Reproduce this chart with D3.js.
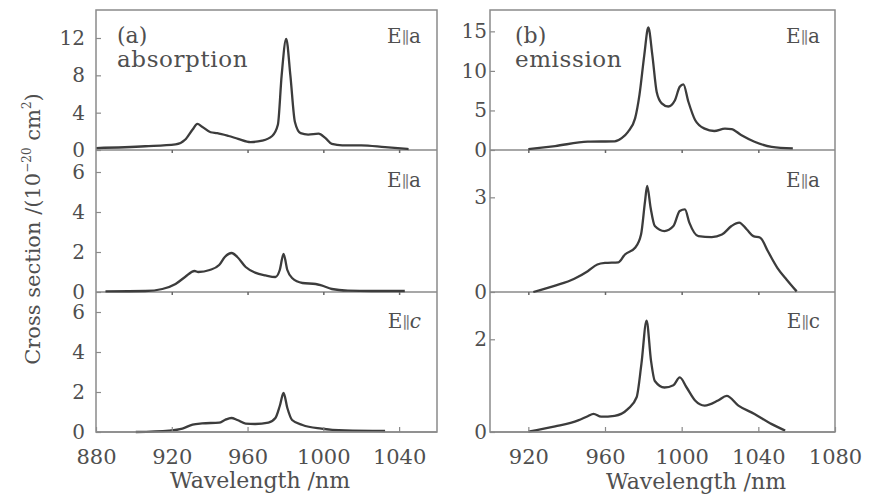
<!DOCTYPE html>
<html><head><meta charset="utf-8">
<script src="https://cdn.jsdelivr.net/npm/d3@7"></script>
<style>
body{margin:0;background:#fff}
text{font-family:"DejaVu Serif","Liberation Serif",serif;fill:#4f4f4f}
</style>
</head><body>
<svg id="chart" width="883" height="499"></svg>
<script>
// ---------- data ----------
// (a) absorption, E||a (top)
const absTopNm  = [880, 906, 922, 927, 931, 933.5, 936, 940.5, 944, 950, 955, 961.6, 967.7, 973, 976, 978, 980.4, 982.6, 985, 988, 992, 997.5, 1001, 1004.5, 1010, 1020, 1032.6, 1045];
const absTopVal = [0.2, 0.4, 0.6, 1.1, 2.2, 2.8, 2.5, 1.9, 1.8, 1.5, 1.2, 0.85, 1.0, 1.5, 2.7, 8, 11.9, 8, 3, 1.8, 1.65, 1.75, 1.3, 0.65, 0.5, 0.5, 0.3, 0.1];
// (a) absorption, E||a (middle)
const absMidNm  = [885, 906, 915, 922, 927, 932, 934, 940, 945, 948, 951.6, 954.6, 959, 964, 969.5, 974.7, 977, 979, 981, 983.5, 989, 996, 999, 1004.5, 1013, 1025.6, 1043];
const absMidVal = [0.03, 0.05, 0.15, 0.4, 0.75, 1.05, 1.0, 1.1, 1.35, 1.75, 1.95, 1.75, 1.25, 0.97, 0.83, 0.75, 1.1, 1.9, 1.1, 0.7, 0.45, 0.4, 0.33, 0.15, 0.07, 0.05, 0.05];
// (a) absorption, E||c (bottom)
const absBotNm  = [901, 918.6, 925.6, 931, 936, 945, 948, 951.4, 954.6, 959, 964, 971, 974.7, 977, 979, 981, 983.5, 989, 999, 1011.6, 1032.6];
const absBotVal = [0, 0.07, 0.17, 0.37, 0.43, 0.47, 0.6, 0.7, 0.6, 0.42, 0.4, 0.47, 0.7, 1.3, 1.95, 1.2, 0.6, 0.35, 0.17, 0.08, 0.05];
// (b) emission, E||a (top)
const emTopNm  = [920, 934, 951, 965, 968.7, 972, 975.7, 978, 980.5, 982.6, 984.7, 987, 989.6, 993, 996.5, 999, 1000.9, 1003.5, 1007, 1012, 1017, 1022.6, 1026, 1031, 1038, 1047, 1058];
const emTopVal = [0.1, 0.5, 1.05, 1.1, 1.5, 2.3, 4, 7, 12, 15.5, 12, 7.3, 5.9, 5.5, 6.3, 8, 8.3, 6.1, 3.8, 2.7, 2.4, 2.7, 2.65, 1.9, 1.05, 0.4, 0.2];
// (b) emission, E||a (middle)
const emMidNm  = [922.6, 934, 944, 951, 956, 960, 967, 970.4, 975.7, 978.8, 980.9, 982, 983.8, 986, 991, 995.7, 999, 1001.7, 1004, 1008.7, 1015.7, 1021, 1026, 1030, 1034, 1037.4, 1041, 1045, 1050, 1054.8, 1060];
const emMidVal = [0, 0.2, 0.42, 0.66, 0.87, 0.92, 0.94, 1.19, 1.4, 1.82, 2.88, 3.36, 2.67, 2.09, 1.93, 2.09, 2.57, 2.62, 2.2, 1.77, 1.74, 1.82, 2.09, 2.2, 1.98, 1.77, 1.72, 1.29, 0.76, 0.39, 0.02];
// (b) emission, E||c (bottom)
const emBotNm  = [920, 934, 946, 951, 954, 958, 965, 972, 976.5, 979, 981.7, 984, 986, 991, 995.7, 999, 1002.6, 1007, 1012, 1019, 1023.5, 1029.6, 1038, 1047, 1054];
const emBotVal = [0.01, 0.12, 0.25, 0.34, 0.39, 0.33, 0.35, 0.5, 0.75, 1.47, 2.4, 1.54, 1.1, 0.96, 1.01, 1.18, 0.96, 0.68, 0.57, 0.68, 0.78, 0.57, 0.39, 0.17, 0.03];

// axis extents and ticks
const leftXDomain  = [880, 1060];
const rightXDomain = [900, 1080];
const leftXTickLabels  = [880, 920, 960, 1000, 1040];
const rightXTickLabels = [920, 960, 1000, 1040, 1080];
const leftXTickMarks   = [920, 960, 1000, 1040];
const rightXTickMarks  = [920, 960, 1000, 1040];
const leftYMax  = [15, 7.1, 7];
const rightYMax = [17.7, 4.5, 3.02];
const leftYTicks  = [[0, 4, 8, 12], [0, 2, 4, 6], [0, 2, 4, 6]];
const rightYTicks = [[0, 5, 10, 15], [0, 3], [0, 2]];
const polLabels = ["E∥a", "E∥a", "E∥c"];

// ---------- layout ----------
const svg = d3.select("#chart");
const rowTop = [10, 150, 292];
const rowBot = [150, 292, 432];
const lineColor = "#3c3c3c";
const frameColor = "#8a8a8a";

const xL = d3.scaleLinear().domain(leftXDomain).range([96, 437]);
const xR = d3.scaleLinear().domain(rightXDomain).range([490, 835]);

const leftSeries = [[absTopNm, absTopVal], [absMidNm, absMidVal], [absBotNm, absBotVal]];
const rightSeries = [[emTopNm, emTopVal], [emMidNm, emMidVal], [emBotNm, emBotVal]];

function drawColumn(x, yMaxes, yTicks, series, labelPad, labelEndX, italicC) {
  const [x0, x1] = x.range();
  for (let i = 0; i < 3; i++) {
    const y = d3.scaleLinear().domain([0, yMaxes[i]]).range([rowBot[i], rowTop[i]]);
    // y axis (ticks inward)
    const ya = svg.append("g").attr("transform", `translate(${x0},0)`)
      .call(d3.axisLeft(y).tickValues(yTicks[i]).tickSizeInner(-5).tickSizeOuter(0)
        .tickPadding(labelPad).tickFormat(d3.format("d")));
    ya.select(".domain").remove();
    ya.selectAll("line").attr("stroke", frameColor).attr("stroke-width", 1.2);
    ya.selectAll("text").style("font-size", "20px").attr("fill", "#4f4f4f");
    // tick marks at the top boundary of lower panels
    if (i > 0) {
      const tm = svg.append("g").attr("transform", `translate(0,${rowTop[i]})`)
        .call(d3.axisBottom(x).tickValues(x === xL ? leftXTickMarks : rightXTickMarks).tickSize(3).tickFormat(""));
      tm.select(".domain").remove();
      tm.selectAll("line").attr("stroke", "#666").attr("stroke-width", 1.5);
    }
    // zero/boundary line
    svg.append("line").attr("x1", x0).attr("x2", x1)
      .attr("y1", y(0)).attr("y2", y(0)).attr("stroke", frameColor).attr("stroke-width", 1.3);
    // curve
    const [nm, val] = series[i];
    const pts = nm.map((d, k) => [d, val[k]]);
    svg.append("path").datum(pts)
      .attr("fill", "none").attr("stroke", lineColor).attr("stroke-width", 2.3)
      .attr("stroke-linejoin", "round")
      .attr("d", d3.line().x(d => x(d[0])).y(d => y(d[1])).curve(d3.curveMonotoneX));
    // polarization label
    const baseY = [43, 187, 328][i];
    const t = svg.append("text").attr("x", labelEndX).attr("y", baseY)
      .attr("text-anchor", "end").style("font-size", "20px");
    t.append("tspan").text(polLabels[i].slice(0, 1));
    t.append("tspan").text(polLabels[i].slice(1, 2)).style("font-size", "16px").attr("fill", "#777")
      .style("font-style", (italicC && i === 2) ? "italic" : "normal");
    t.append("tspan").text(polLabels[i].slice(2))
      .style("font-style", (italicC && i === 2) ? "italic" : "normal");
  }
  // bottom axis
  const xa = svg.append("g").attr("transform", `translate(0,${rowBot[2]})`)
    .call(d3.axisBottom(x).tickValues(x === xL ? leftXTickLabels : rightXTickLabels)
      .tickSizeInner(-5).tickSizeOuter(0).tickPadding(17).tickFormat(d3.format("d")));
  xa.select(".domain").remove();
  xa.selectAll("line").attr("stroke", frameColor).attr("stroke-width", 1.2);
  xa.selectAll("text").style("font-size", "21px").attr("fill", "#4f4f4f");
  // frame
  svg.append("rect").attr("x", x0).attr("y", rowTop[0]).attr("width", x1 - x0)
    .attr("height", rowBot[2] - rowTop[0]).attr("fill", "none")
    .attr("stroke", frameColor).attr("stroke-width", 1.5);
}

drawColumn(xL, leftYMax, leftYTicks, leftSeries, 11, 421, true);
drawColumn(xR, rightYMax, rightYTicks, rightSeries, 3, 820, false);

// panel titles
function title(x, l1, l2) {
  svg.append("text").attr("x", x).attr("y", 43).style("font-size", "22px").text(l1);
  svg.append("text").attr("x", x).attr("y", 67).style("font-size", "23px")
    .style("letter-spacing", "0.6px").text(l2);
}
title(117, "(a)", "absorption");
title(515, "(b)", "emission");

// axis titles
svg.append("text").attr("x", 260).attr("y", 488).attr("text-anchor", "middle")
  .style("font-size", "22px").text("Wavelength /nm");
svg.append("text").attr("x", 696).attr("y", 489).attr("text-anchor", "middle")
  .style("font-size", "22px").text("Wavelength /nm");

const yt = svg.append("text").attr("transform", "translate(40,229) rotate(-90)")
  .attr("text-anchor", "middle").style("font-size", "21px");
yt.append("tspan").text("Cross section /(10");
yt.append("tspan").text("−20").style("font-size", "12px").attr("dy", "-9");
yt.append("tspan").text(" cm").style("font-size", "21px").attr("dy", "9");
yt.append("tspan").text("2").style("font-size", "12px").attr("dy", "-9");
yt.append("tspan").text(")").style("font-size", "21px").attr("dy", "9");
</script>
</body></html>
